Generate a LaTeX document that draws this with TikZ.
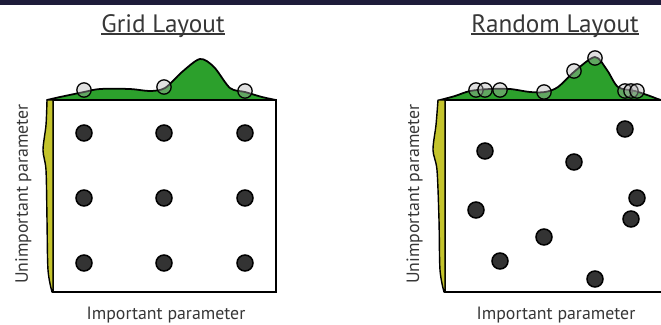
\documentclass[tikz,border=0pt]{standalone}
\usepackage{fontspec}
\setmainfont{PT Sans}
\usetikzlibrary{positioning}
\definecolor{verde}{RGB}{44,160,44}
\definecolor{amarillo}{RGB}{196,196,44}
\definecolor{barra}{RGB}{30,28,58}
\definecolor{texto}{RGB}{55,55,55}
\tikzset{
  caja/.style={draw=black,line width=1.5pt,fill=white},
  densidad/.style={fill=verde,draw=black,line width=1.5pt,line join=round},
  lateral/.style={fill=amarillo,draw=black,line width=1.2pt,line join=round},
  dato/.style={circle,fill=black!80,draw=black,line width=1.3pt,minimum size=0.48cm,inner sep=0pt},
  marca/.style={circle,draw=black,line width=1.1pt,fill=gray!60,fill opacity=0.4,minimum size=0.43cm,inner sep=0pt},
  titulo/.style={font=\fontsize{21.5}{24}\selectfont,text=texto,anchor=base,inner sep=0pt},
  etiqueta/.style={font=\fontsize{15.2}{17}\selectfont,text=texto,anchor=base,inner sep=0pt}
}

\begin{document}
\begin{tikzpicture}[x=0.03cm,y=-0.03cm]
\useasboundingbox (0,0) rectangle (661,324);
\fill[white] (0,0) rectangle (661,324);
\fill[barra] (0,0) rectangle (661,5);
\begin{scope}
\clip (0,5) rectangle (661,324);
% grid layout
\filldraw[densidad] plot[smooth] coordinates {(47,100) (60,97) (84,92) (100,89) (130,89) (150,91) (165,88) (182,72) (200,59) (214,67) (230,88) (245,92) (262,97) (276,100)} -- cycle;
\draw[caja] (53,100) rectangle (276,292);
\filldraw[lateral] (53,100) -- plot[smooth] coordinates {(47,100) (46,125) (43,150) (46,170) (47,220) (48,270) (52,292)} -- (53,292) -- cycle;
\foreach \x [count=\i] in {84,164,245}{
  \foreach \y [count=\j] in {133,198,263}{
    \node[dato] (g\i\j) at (\x,\y) {};}}
\foreach \x/\y [count=\i] in {84/90,164/87,245/91}{
  \node[marca] (mg\i) at (\x,\y) {};}
% random layout
\filldraw[densidad] plot[smooth] coordinates {(440,100) (455,96) (470,91) (490,89) (510,89) (530,92) (545,92) (558,87) (575,71) (595,57) (607,70) (618,87) (635,91) (650,96) (661,100) (672,101)} -- cycle;
\draw[caja] (445,100) rectangle (690,292);
\filldraw[lateral] (445,100) -- plot[smooth] coordinates {(438,100) (436,125) (433,150) (437,170) (439,220) (440,270) (444,292)} -- (445,292) -- cycle;
\foreach \x/\y [count=\i] in {485/151,574/162,625/129,476/210,637/198,631/219,544/237,500/261,595/279}{
  \node[dato] (r\i) at (\x,\y) {};}
\foreach \x/\y [count=\i] in {476/90,485/90,500/90,544/92,574/71,595/58,625/91,631/91,637/91}{
  \node[marca] (mr\i) at (\x,\y) {};}
\end{scope}
% texts
\node[titulo] (tg) at (163,32) {Grid Layout};
\node[titulo] (tr) at (555,32) {Random Layout};
\draw[texto,line width=1pt] ([yshift=-0.06cm]tg.base west) -- ([yshift=-0.06cm]tg.base east);
\draw[texto,line width=1pt] ([yshift=-0.06cm]tr.base west) -- ([yshift=-0.06cm]tr.base east);
\node[etiqueta] (xg) at (166,319) {Important parameter};
\node[etiqueta] (xr) at (556,319) {Important parameter};
\node[etiqueta,rotate=90] (yg) at (28,194) {Unimportant parameter};
\node[etiqueta,rotate=90] (yr) at (419,194) {Unimportant parameter};
\end{tikzpicture}
\end{document}
